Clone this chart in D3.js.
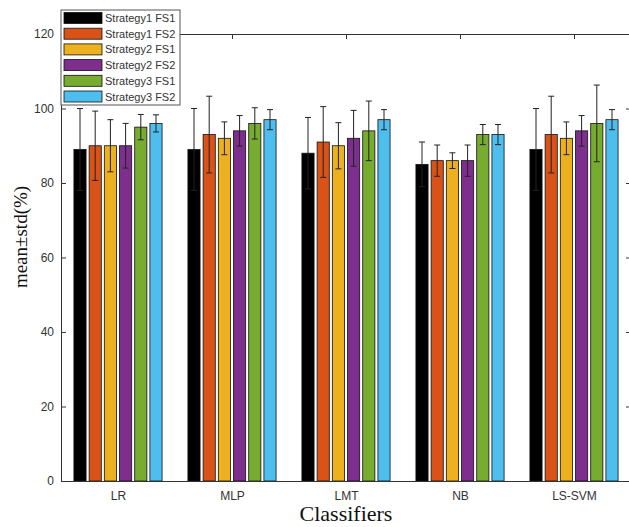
<!DOCTYPE html>
<html>
<head>
<meta charset="utf-8">
<script src="https://cdn.jsdelivr.net/npm/d3@7"></script>
<style>
  body { margin: 0; background: #fff; }
  svg text { font-family: "Liberation Sans", Arial, sans-serif; }
</style>
</head>
<body>
<svg></svg>
<script>
let classifiers = ['LR', 'MLP', 'LMT', 'NB', 'LS-SVM'];
let seriesNames = ['Strategy1 FS1', 'Strategy1 FS2', 'Strategy2 FS1', 'Strategy2 FS2', 'Strategy3 FS1', 'Strategy3 FS2'];
let seriesColors = ['#000000', '#D95319', '#EDB120', '#7E2F8E', '#77AC30', '#4DBEEE'];

// mean per classifier, one array per series
let s1fs1Mean = [89, 89, 88, 85, 89];
let s1fs2Mean = [90, 93, 91, 86, 93];
let s2fs1Mean = [90, 92, 90, 86, 92];
let s2fs2Mean = [90, 94, 92, 86, 94];
let s3fs1Mean = [95, 96, 94, 93, 96];
let s3fs2Mean = [96, 97, 97, 93, 97];

// std per classifier
let s1fs1Std = [11, 11, 9.6, 6, 11];
let s1fs2Std = [9.3, 10.3, 9.5, 4.2, 10.3];
let s2fs1Std = [7, 4.4, 6.2, 2.1, 4.4];
let s2fs2Std = [6, 4.1, 7.5, 4.2, 4.1];
let s3fs1Std = [3.4, 4.2, 8, 2.7, 10.3];
let s3fs2Std = [2.3, 2.7, 2.7, 2.7, 2.7];

let yTicks = [0, 20, 40, 60, 80, 100, 120];

let means = [s1fs1Mean, s1fs2Mean, s2fs1Mean, s2fs2Mean, s3fs1Mean, s3fs2Mean];
let stds = [s1fs1Std, s1fs2Std, s2fs1Std, s2fs2Std, s3fs1Std, s3fs2Std];

let width = 629;
let height = 527;
let axisColor = '#333';

let svg = d3.select('svg')
    .attr('width', width)
    .attr('height', height);

let x = d3.scaleLinear().domain([0.5, 5.5]).range([61, 631]);
let y = d3.scaleLinear().domain([0, 120]).range([481, 34]);
// offsets of the six bars inside a group, in x units
let xs = d3.scaleBand().domain(seriesNames).range([-0.4, 0.4]);
let barW = x(0.8 * xs.bandwidth()) - x(0);

let data = [];
seriesNames.forEach((s, i) => {
    classifiers.forEach((c, j) => {
        data.push({ series: s, idx: i, cls: j + 1, mean: means[i][j], std: stds[i][j] });
    });
});
let cx = d => x(d.cls + xs(d.series) + xs.bandwidth() / 2);

// axes
let yAxis = svg.append('g')
    .attr('transform', `translate(${x(0.5)},0)`)
    .call(d3.axisLeft(y).tickValues(yTicks).tickSizeInner(-5).tickSizeOuter(0).tickPadding(7));
let yAxisR = svg.append('g')
    .attr('transform', `translate(${x(5.5)},0)`)
    .call(d3.axisRight(y).tickValues(yTicks).tickSizeInner(-5).tickSizeOuter(0).tickFormat(''));
let xAxisTop = svg.append('g')
    .attr('transform', `translate(0,${y(120)})`)
    .call(d3.axisTop(x).tickValues([1, 2, 3, 4, 5]).tickSizeInner(-5).tickSizeOuter(0).tickFormat(''));

// bars
svg.append('g')
    .selectAll('rect')
    .data(data)
    .enter()
    .append('rect')
        .attr('x', d => cx(d) - barW / 2)
        .attr('y', d => y(d.mean))
        .attr('width', barW)
        .attr('height', d => y(0) - y(d.mean))
        .attr('fill', d => seriesColors[d.idx])
        .attr('stroke', '#111')
        .attr('stroke-width', 0.8);

// error bars
let err = svg.append('g')
    .attr('stroke', '#222')
    .attr('stroke-width', 1);
err.selectAll('.ev')
    .data(data)
    .enter()
    .append('line')
        .classed('ev', true)
        .attr('x1', cx).attr('x2', cx)
        .attr('y1', d => y(d.mean - d.std))
        .attr('y2', d => y(d.mean + d.std));
err.selectAll('.ct')
    .data(data)
    .enter()
    .append('line')
        .classed('ct', true)
        .attr('x1', d => cx(d) - 3).attr('x2', d => cx(d) + 3)
        .attr('y1', d => y(d.mean + d.std))
        .attr('y2', d => y(d.mean + d.std));
err.selectAll('.cb')
    .data(data)
    .enter()
    .append('line')
        .classed('cb', true)
        .attr('x1', d => cx(d) - 3).attr('x2', d => cx(d) + 3)
        .attr('y1', d => y(d.mean - d.std))
        .attr('y2', d => y(d.mean - d.std));

// bottom axis on top of bars
let xAxis = svg.append('g')
    .attr('transform', `translate(0,${y(0)})`)
    .call(d3.axisBottom(x).tickValues([1, 2, 3, 4, 5]).tickSize(0).tickSizeOuter(0).tickPadding(10)
        .tickFormat(d => classifiers[d - 1]));

[yAxis, yAxisR, xAxisTop, xAxis].forEach(g => {
    g.select('.domain').attr('stroke', axisColor);
    g.selectAll('.tick line').attr('stroke', axisColor);
    g.selectAll('text').attr('fill', '#333').style('font-size', '12px');
});

// axis titles
svg.append('text')
    .attr('x', 346)
    .attr('y', 521)
    .attr('text-anchor', 'middle')
    .style('font-family', '"Liberation Serif", "Times New Roman", serif')
    .style('font-size', '22px')
    .attr('fill', '#111')
    .text('Classifiers');

svg.append('text')
    .attr('transform', 'translate(27,237) rotate(-90)')
    .attr('text-anchor', 'middle')
    .style('font-family', '"Liberation Serif", "Times New Roman", serif')
    .style('font-size', '19px')
    .attr('fill', '#111')
    .text('mean±std(%)');

// legend
let legend = svg.append('g').attr('transform', 'translate(61,10)');
legend.append('rect')
    .attr('width', 119)
    .attr('height', 95)
    .attr('fill', '#fff')
    .attr('stroke', '#555');
let rows = legend.selectAll('.row')
    .data(seriesNames)
    .enter()
    .append('g')
        .classed('row', true)
        .attr('transform', (d, i) => `translate(0,${8 + i * 15.7})`);
rows.append('rect')
    .attr('x', 3)
    .attr('y', -5.5)
    .attr('width', 38)
    .attr('height', 11)
    .attr('fill', (d, i) => seriesColors[i])
    .attr('stroke', '#111')
    .attr('stroke-width', 0.8);
rows.append('text')
    .attr('x', 44)
    .attr('y', 4)
    .style('font-size', '11px')
    .attr('fill', '#333')
    .text(d => d);
</script>
</body>
</html>
